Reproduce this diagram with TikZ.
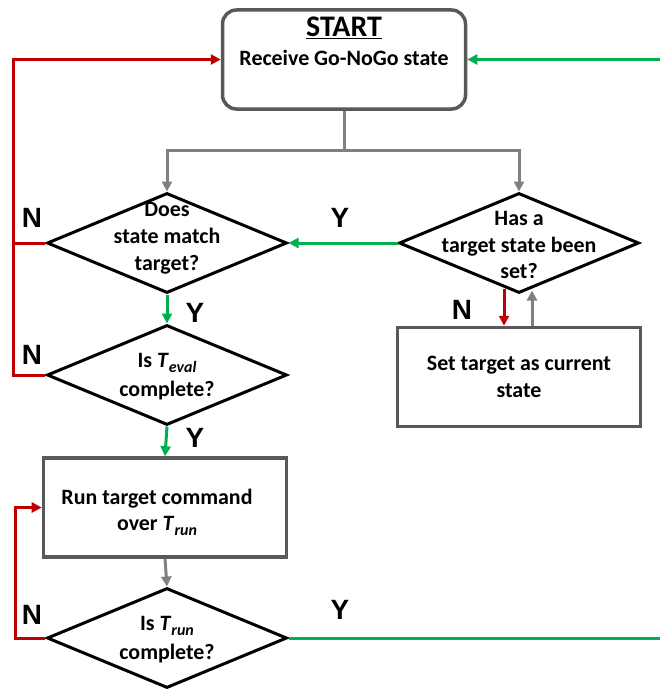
\documentclass[tikz,border=0pt]{standalone}
\usepackage{fontspec}
\setmainfont{Carlito}
\newfontfamily\lblfont{Liberation Sans}
\usetikzlibrary{shapes.geometric,arrows.meta,calc}
\definecolor{flowred}{HTML}{C00000}
\definecolor{flowgreen}{HTML}{00B050}
\definecolor{flowgray}{HTML}{808080}
\definecolor{boxgray}{HTML}{595959}
\newcommand{\subT}[1]{\textit{T}\raisebox{-0.4ex}{\fontsize{16}{16}\selectfont\textit{#1}}}
\begin{document}
\begin{tikzpicture}[x=1bp,y=-1bp,
  decision/.style={draw=black, line width=3bp, diamond, minimum width=240bp,
    minimum height=100bp, inner sep=0pt, fill=white},
  procbox/.style={draw=boxgray, line width=3.5bp, rectangle, minimum width=243bp,
    minimum height=99bp, inner sep=0pt, fill=white},
  startbox/.style={procbox, rounded corners=14bp},
  body/.style={font=\bfseries\fontsize{22}{27}\selectfont, align=center, inner sep=0pt},
  yn/.style={font=\lblfont\bfseries\fontsize{28}{28}\selectfont, inner sep=0pt},
  link/.style={line width=3bp},
  redlink/.style={link, draw=flowred, -{Triangle[length=10bp,width=10bp,fill=flowred]}},
  redline/.style={link, draw=flowred},
  greenlink/.style={link, draw=flowgreen, -{Triangle[length=10bp,width=10bp,fill=flowgreen]}},
  greenline/.style={link, draw=flowgreen},
  graylink/.style={link, draw=flowgray, -{Triangle[length=10bp,width=10bp,fill=flowgray]}},
  grayline/.style={link, draw=flowgray}]
\useasboundingbox (0,0) rectangle (660,690);

% shapes
\node[startbox] (start) at (344,59.5) {};
\node[decision] (dec1) at (167,243) {};
\node[decision] (dec2) at (519,243) {};
\node[procbox]  (settgt) at (519,377) {};
\node[decision] (dec3) at (167,375) {};
\node[procbox]  (run) at (165,507.5) {};
\node[decision] (dec4) at (167,638) {};

% texts
\node[body, font=\bfseries\fontsize{30}{30}\selectfont] (starttitle) at (344,28) {\underline{START}};
\node[body] (starttext) at (344,58) {Receive Go-NoGo state};
\node[body] (dec1text) at (167,238) {Does\\state match\\target?};
\node[body] (dec2text) at (519,245) {Has a\\target state been\\set?};
\node[body] (settext) at (519,377) {Set target as current\\state};
\node[body] (dec3text) at (167,377) {Is \subT{eval}\\[2bp]complete?};
\node[body] (runtext) at (157,512) {Run target command\\over \subT{run}};
\node[body] (dec4text) at (167,640) {Is \subT{run}\\[2bp]complete?};

% connector end points
\coordinate (split) at (344,150);
\coordinate (leftbus) at (13,375);
\coordinate (runloop) at (15,638);
\coordinate (retin) at (660,59.5);
\coordinate (retout) at (660,638);
\coordinate (nofrom) at ($(dec2.south)+(-15,-6)$);
\coordinate (noto) at (nofrom |- settgt.north);
\coordinate (backto) at ($(dec2.south)+(13,-4)$);
\coordinate (backfrom) at (backto |- settgt.north);

% connectors
\draw[grayline] (start.south) -- (split);
\draw[graylink] (split) -| (dec1.north);
\draw[graylink] (split) -| (dec2.north);
\draw[greenlink] (dec2.west) -- (dec1.east);
\draw[redlink] (nofrom) -- (noto);
\draw[graylink] (backfrom) -- (backto);
\draw[greenlink] (dec1.south) -- (dec3.north);
\draw[greenlink] (dec3.south) -- (run.north);
\draw[graylink] (run.south) -- (dec4.north);
\draw[redline] (dec1.west) -- (leftbus |- dec1.west);
\draw[redlink] (dec3.west) -- (leftbus) |- (start.west);
\draw[redlink] (dec4.west) -- (runloop) |- (run.west);
\draw[greenlink] (retin) -- (start.east);
\draw[greenline] (dec4.east) -- (retout);

% branch labels
\node[yn] (n1) at (32,218) {N};
\node[yn] (n2) at (32,355) {N};
\node[yn] (n3) at (32,615) {N};
\node[yn] (n4) at (462,310) {N};
\node[yn] (y1) at (340,218) {Y};
\node[yn] (y2) at (195,313) {Y};
\node[yn] (y3) at (195,438) {Y};
\node[yn] (y4) at (340,610) {Y};
\end{tikzpicture}
\end{document}
